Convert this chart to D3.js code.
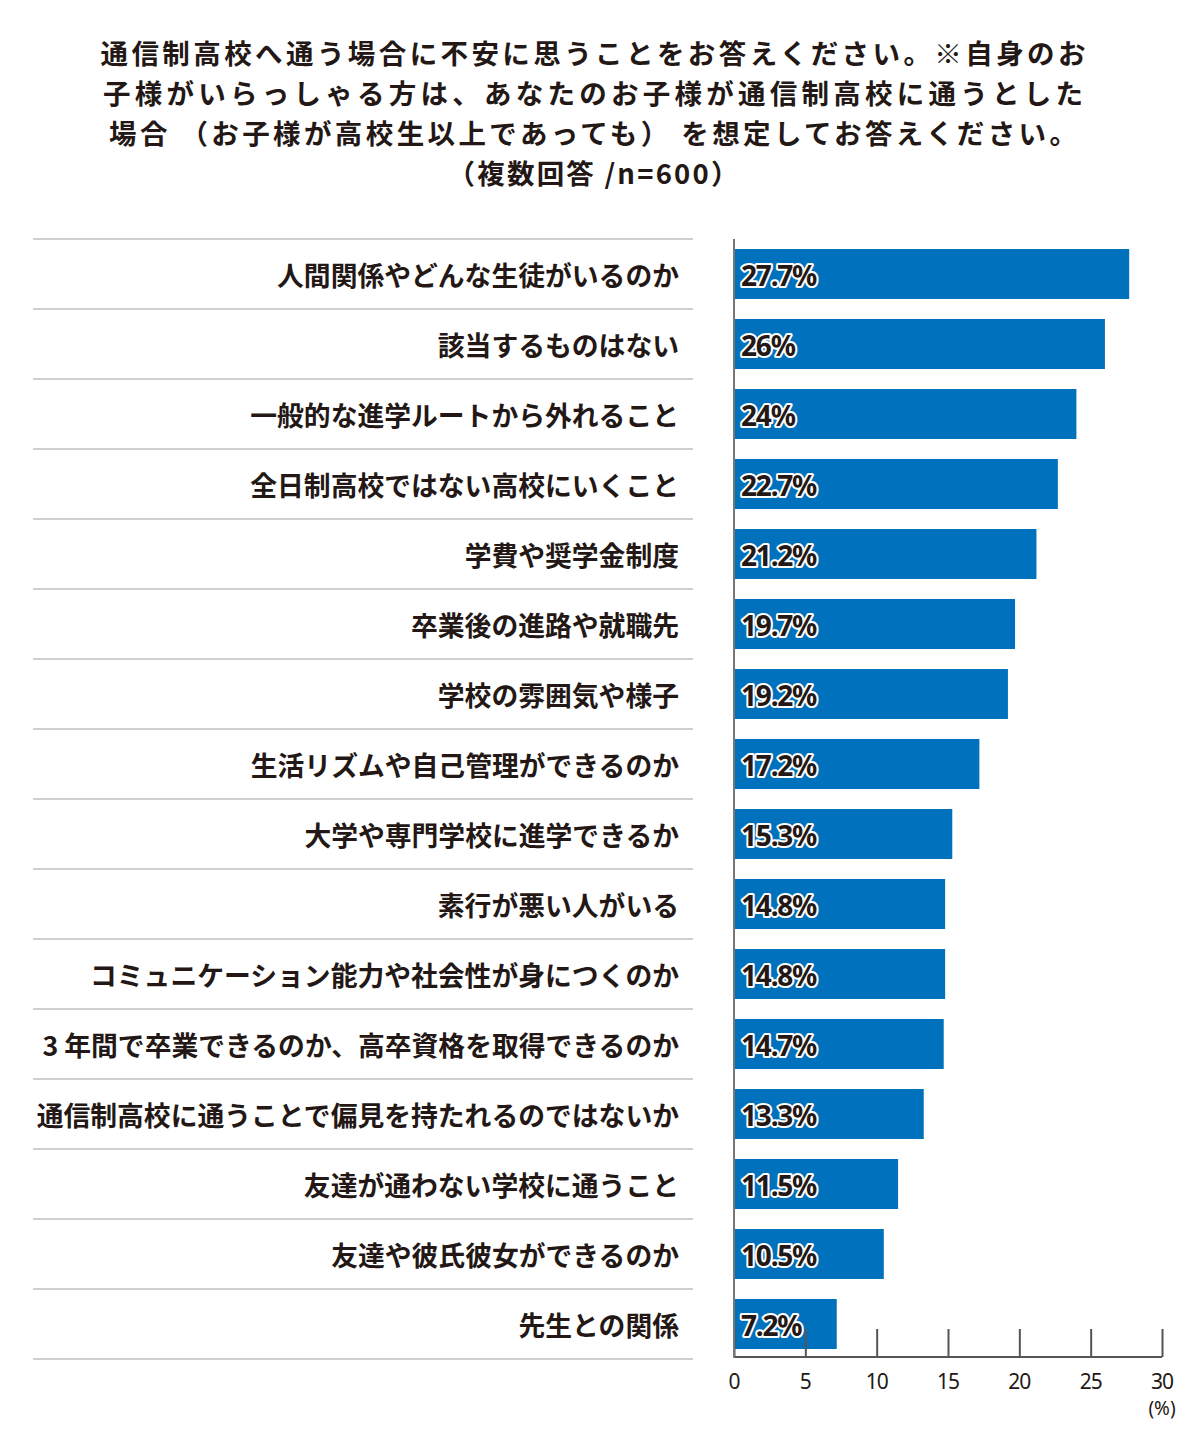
<!DOCTYPE html>
<html><head><meta charset="utf-8">
<script src="https://cdn.jsdelivr.net/npm/d3@7"></script>
<style>
html,body{margin:0;padding:0;background:#fff;}
</style>
</head><body>
<svg id="chart" width="1200" height="1450"></svg>
<script>
const titleLines = [
  "通信制高校へ通う場合に不安に思うことをお答えください。※自身のお",
  "子様がいらっしゃる方は、あなたのお子様が通信制高校に通うとした",
  "場合 （お子様が高校生以上であっても） を想定してお答えください。",
  "（複数回答 /n=600）"
];
const titleWidths = [985, 980, 968, 291];
const categories = [
  "人間関係やどんな生徒がいるのか",
  "該当するものはない",
  "一般的な進学ルートから外れること",
  "全日制高校ではない高校にいくこと",
  "学費や奨学金制度",
  "卒業後の進路や就職先",
  "学校の雰囲気や様子",
  "生活リズムや自己管理ができるのか",
  "大学や専門学校に進学できるか",
  "素行が悪い人がいる",
  "コミュニケーション能力や社会性が身につくのか",
  "3 年間で卒業できるのか、高卒資格を取得できるのか",
  "通信制高校に通うことで偏見を持たれるのではないか",
  "友達が通わない学校に通うこと",
  "友達や彼氏彼女ができるのか",
  "先生との関係"
];
const values = [27.7, 26, 24, 22.7, 21.2, 19.7, 19.2, 17.2, 15.3, 14.8, 14.8, 14.7, 13.3, 11.5, 10.5, 7.2];
const valueLabels = ["27.7%","26%","24%","22.7%","21.2%","19.7%","19.2%","17.2%","15.3%","14.8%","14.8%","14.7%","13.3%","11.5%","10.5%","7.2%"];
const tickValues = [0, 5, 10, 15, 20, 25, 30];
const unitLabel = "(%)";

const svg = d3.select("#chart");
const cjk = "'Noto Sans CJK JP','Noto Sans CJK SC',sans-serif";
const ink = "#231815";

// Title
svg.append("g").selectAll("text").data(titleLines).join("text")
  .attr("x", 593)
  .attr("y", (d, i) => 52 + i * 40)
  .attr("text-anchor", "middle")
  .attr("dominant-baseline", "central")
  .attr("font-family", cjk)
  .attr("font-weight", 700)
  .attr("font-size", 27.5)
  .attr("textLength", (d, i) => titleWidths[i])
  .attr("lengthAdjust", "spacing")
  .attr("fill", ink)
  .text(d => d);

const x = d3.scaleLinear().domain([0, 30]).range([734, 1162]);
const y = d3.scaleBand().domain(categories).range([239, 1359]).paddingInner(0).paddingOuter(0);
const barPad = 10;

// separators
const seps = d3.range(categories.length + 1).map(i => 239 + i * y.step());
svg.append("g").selectAll("line").data(seps).join("line")
  .attr("x1", 33).attr("x2", 693)
  .attr("y1", d => d).attr("y2", d => d)
  .attr("stroke", "#cfcfcf").attr("stroke-width", 2);

// category labels
svg.append("g").selectAll("text").data(categories).join("text")
  .attr("x", 679)
  .attr("y", d => y(d) + y.bandwidth() / 2)
  .attr("text-anchor", "end")
  .attr("dominant-baseline", "central")
  .attr("font-family", cjk)
  .attr("font-weight", 700)
  .attr("font-size", 26.8)
  .attr("fill", ink)
  .text(d => d);

// bars
svg.append("g").selectAll("rect").data(values).join("rect")
  .attr("x", x(0))
  .attr("y", (d, i) => y(categories[i]) + barPad)
  .attr("width", d => x(d) - x(0))
  .attr("height", y.bandwidth() - 2 * barPad)
  .attr("fill", "#0071bc");

// ticks (upward)
const axisY = 1357;
const axis = d3.axisTop(x).tickValues(tickValues).tickSize(28).tickFormat("");
const ag = svg.append("g").attr("transform", `translate(0,${axisY})`).call(axis);
ag.select(".domain").remove();
ag.selectAll(".tick line").attr("stroke", "#555").attr("stroke-width", 2);

// axis lines
svg.append("line").attr("x1", x(0)).attr("x2", x(30)).attr("y1", axisY).attr("y2", axisY)
  .attr("stroke", "#555").attr("stroke-width", 2);
svg.append("line").attr("x1", x(0)).attr("x2", x(0)).attr("y1", 239).attr("y2", axisY + 1)
  .attr("stroke", "#777").attr("stroke-width", 2);

// tick labels
svg.append("g").selectAll("text").data(tickValues).join("text")
  .attr("x", d => x(d))
  .attr("y", 1381)
  .attr("text-anchor", "middle")
  .attr("dominant-baseline", "central")
  .attr("font-family", "'Noto Sans',sans-serif")
  .attr("font-size", 21)
  .attr("letter-spacing", -1)
  .attr("fill", ink)
  .text(d => d);
svg.append("text")
  .attr("x", x(30)).attr("y", 1408)
  .attr("text-anchor", "middle")
  .attr("dominant-baseline", "central")
  .attr("font-family", "'Noto Sans',sans-serif")
  .attr("font-size", 19)
  .attr("fill", ink)
  .text(unitLabel);

// value labels
svg.append("g").selectAll("text").data(valueLabels).join("text")
  .attr("x", x(0) + 7)
  .attr("y", (d, i) => y(categories[i]) + y.bandwidth() / 2 + 1)
  .attr("dominant-baseline", "central")
  .attr("font-family", "'Noto Sans',sans-serif")
  .attr("font-weight", 700)
  .attr("font-size", 28)
  .attr("letter-spacing", -1.2)
  .attr("fill", ink)
  .attr("stroke", "#fff")
  .attr("stroke-width", 4)
  .attr("stroke-linejoin", "round")
  .attr("paint-order", "stroke")
  .text(d => d);
</script>
</body></html>
